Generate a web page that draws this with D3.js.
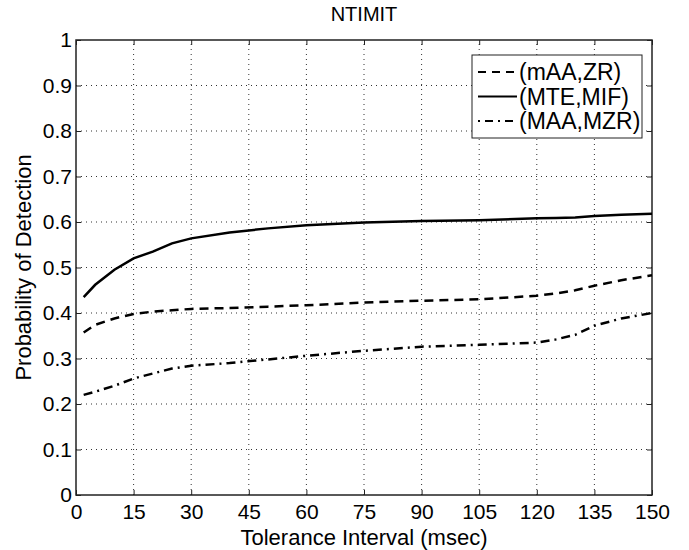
<!DOCTYPE html>
<html>
<head>
<meta charset="utf-8">
<script src="https://cdn.jsdelivr.net/npm/d3@7"></script>
<style>
  body { margin: 0; background: #fff; }
  text { font-family: "Liberation Sans", Arial, sans-serif; fill: #000; }
</style>
</head>
<body>
<div id="chart"></div>
<script>
// tolerance interval (msec)
const tolerance = [2, 5, 10, 15, 20, 25, 30, 40, 50, 60, 75, 90, 105, 120, 125, 130, 135, 142, 150];
const mAA_ZR   = [0.357, 0.374, 0.388, 0.398, 0.403, 0.406, 0.409, 0.411, 0.414, 0.417, 0.423, 0.427, 0.430, 0.438, 0.443, 0.450, 0.460, 0.472, 0.483];
const MTE_MIF  = [0.435, 0.462, 0.495, 0.520, 0.535, 0.553, 0.564, 0.577, 0.586, 0.593, 0.599, 0.602, 0.604, 0.608, 0.609, 0.610, 0.613, 0.616, 0.618];
const MAA_MZR  = [0.220, 0.227, 0.240, 0.256, 0.267, 0.278, 0.284, 0.290, 0.298, 0.306, 0.317, 0.326, 0.330, 0.335, 0.342, 0.352, 0.372, 0.388, 0.400];

const seriesNames = ["(mAA,ZR)", "(MTE,MIF)", "(MAA,MZR)"];
const seriesVals = [mAA_ZR, MTE_MIF, MAA_MZR];
const dashes = ["9,6", null, "9,5,2,5"];

const xTicks = d3.range(0, 151, 15);
const yTicks = d3.range(0, 1.01, 0.1);

const width = 689, height = 550;
const margin = {left: 76, right: 37, top: 40, bottom: 55};

const svg = d3.select("#chart").append("svg")
  .attr("width", width)
  .attr("height", height);

const x = d3.scaleLinear().domain([0, 150]).range([margin.left, width - margin.right]);
const y = d3.scaleLinear().domain([0, 1]).range([height - margin.bottom, margin.top]);

const x0 = x.range()[0], x1 = x.range()[1];
const y0 = y.range()[0], y1 = y.range()[1];

// dotted grid
svg.append("g").selectAll("line.vg")
  .data(xTicks.slice(1, -1))
  .enter().append("line")
  .attr("x1", d => x(d)).attr("x2", d => x(d))
  .attr("y1", y0).attr("y2", y1)
  .style("stroke", "#333").style("stroke-width", 1)
  .style("stroke-dasharray", "1,4");

svg.append("g").selectAll("line.hg")
  .data(yTicks.slice(1, -1))
  .enter().append("line")
  .attr("x1", x0).attr("x2", x1)
  .attr("y1", d => y(d)).attr("y2", d => y(d))
  .style("stroke", "#333").style("stroke-width", 1)
  .style("stroke-dasharray", "1,4");

// axes, ticks pointing in
const fmtY = d => d === 0 ? "0" : d === 1 ? "1" : d3.format(".1f")(d);

svg.append("g")
  .attr("transform", `translate(0,${y0})`)
  .call(d3.axisBottom(x).tickValues(xTicks).tickSizeInner(-5).tickSizeOuter(0).tickPadding(9))
  .call(g => g.select(".domain").remove())
  .call(g => g.selectAll("text").style("font-size", "21px").style("font-family", "Liberation Sans, Arial, sans-serif"));

svg.append("g")
  .attr("transform", `translate(0,${y1})`)
  .call(d3.axisTop(x).tickValues(xTicks).tickSizeInner(-5).tickSizeOuter(0).tickFormat(""))
  .call(g => g.select(".domain").remove());

svg.append("g")
  .attr("transform", `translate(${x0},0)`)
  .call(d3.axisLeft(y).tickValues(yTicks).tickFormat(fmtY).tickSizeInner(-5).tickSizeOuter(0).tickPadding(4))
  .call(g => g.select(".domain").remove())
  .call(g => g.selectAll("text").style("font-size", "21px").style("font-family", "Liberation Sans, Arial, sans-serif"));

svg.append("g")
  .attr("transform", `translate(${x1},0)`)
  .call(d3.axisRight(y).tickValues(yTicks).tickSizeInner(-5).tickSizeOuter(0).tickFormat(""))
  .call(g => g.select(".domain").remove());

svg.selectAll(".tick line").style("stroke", "#222");

svg.append("rect")
  .attr("x", x0).attr("y", y1)
  .attr("width", x1 - x0).attr("height", y0 - y1)
  .style("fill", "none").style("stroke", "#222").style("stroke-width", 1.5);

// curves
const line = d3.line()
  .x((d, i) => x(tolerance[i]))
  .y(d => y(d));

svg.append("g").selectAll("path.series")
  .data(seriesVals)
  .enter().append("path")
  .attr("d", line)
  .style("fill", "none")
  .style("stroke", "#000")
  .style("stroke-width", 2.5)
  .style("stroke-dasharray", (d, i) => dashes[i]);

// title and labels
svg.append("text")
  .attr("x", (x0 + x1) / 2).attr("y", 21)
  .attr("text-anchor", "middle")
  .style("font-size", "20px")
  .text("NTIMIT");

svg.append("text")
  .attr("x", (x0 + x1) / 2).attr("y", 545)
  .attr("text-anchor", "middle")
  .style("font-size", "22px")
  .text("Tolerance Interval (msec)");

svg.append("text")
  .attr("transform", `translate(31,${(y0 + y1) / 2}) rotate(-90)`)
  .attr("text-anchor", "middle")
  .style("font-size", "22px")
  .text("Probability of Detection");

// legend
const lg = svg.append("g").attr("transform", "translate(472,55)");
lg.append("rect")
  .attr("width", 170).attr("height", 83)
  .style("fill", "#fff").style("stroke", "#222").style("stroke-width", 1);

const items = lg.selectAll("g.item")
  .data(seriesNames)
  .enter().append("g")
  .attr("transform", (d, i) => `translate(0,${17 + i * 24.5})`);

items.append("line")
  .attr("x1", 6).attr("x2", 45)
  .attr("y1", 0).attr("y2", 0)
  .style("stroke", "#000").style("stroke-width", 2)
  .style("stroke-dasharray", (d, i) => dashes[i] ? (i === 0 ? "8,6" : "2,5,8,5") : null);

items.append("text")
  .attr("x", 47).attr("y", 8)
  .style("font-size", "23px")
  .text(d => d);
</script>
</body>
</html>
